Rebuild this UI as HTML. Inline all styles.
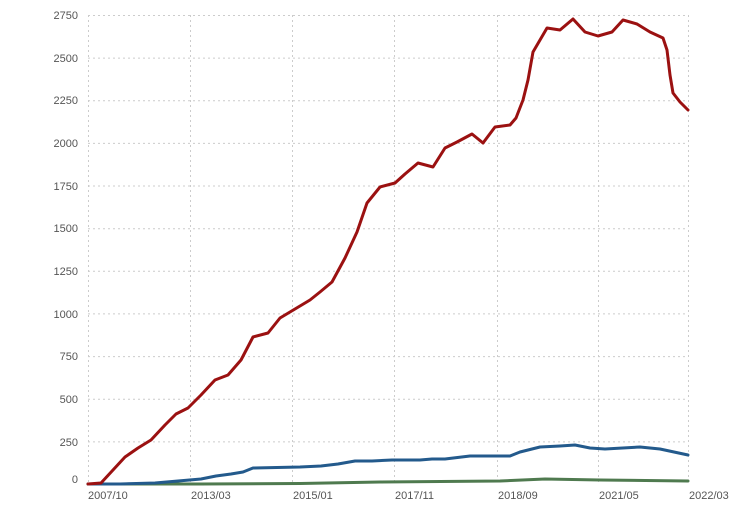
<!DOCTYPE html>
<html><head><meta charset="utf-8"><style>
html,body{margin:0;padding:0;background:#fff;}
svg text{font-family:"Liberation Sans",sans-serif;font-size:11px;fill:#555;}
</style></head><body>
<svg width="730" height="520" viewBox="0 0 730 520" xmlns="http://www.w3.org/2000/svg">
<g stroke="#ccc" stroke-width="1" stroke-dasharray="2,3" fill="none">
<line x1="88" y1="15.5" x2="688" y2="15.5"/>
<line x1="88" y1="58.1" x2="688" y2="58.1"/>
<line x1="88" y1="100.7" x2="688" y2="100.7"/>
<line x1="88" y1="143.4" x2="688" y2="143.4"/>
<line x1="88" y1="186" x2="688" y2="186"/>
<line x1="88" y1="228.7" x2="688" y2="228.7"/>
<line x1="88" y1="271.3" x2="688" y2="271.3"/>
<line x1="88" y1="313.9" x2="688" y2="313.9"/>
<line x1="88" y1="356.6" x2="688" y2="356.6"/>
<line x1="88" y1="399.2" x2="688" y2="399.2"/>
<line x1="88" y1="441.9" x2="688" y2="441.9"/>
<line x1="88.5" y1="15" x2="88.5" y2="484"/>
<line x1="190.5" y1="15" x2="190.5" y2="484"/>
<line x1="292.5" y1="15" x2="292.5" y2="484"/>
<line x1="394.5" y1="15" x2="394.5" y2="484"/>
<line x1="497.5" y1="15" x2="497.5" y2="484"/>
<line x1="598.5" y1="15" x2="598.5" y2="484"/>
<line x1="688.5" y1="15" x2="688.5" y2="484"/>
</g>
<g text-anchor="end">
<text x="78" y="19">2750</text><text x="78" y="62">2500</text><text x="78" y="104">2250</text>
<text x="78" y="147">2000</text><text x="78" y="190">1750</text><text x="78" y="232">1500</text>
<text x="78" y="275">1250</text><text x="78" y="318">1000</text><text x="78" y="360">750</text>
<text x="78" y="403">500</text><text x="78" y="446">250</text><text x="78" y="483">0</text>
</g>
<g>
<text x="88" y="499">2007/10</text><text x="191" y="499">2013/03</text><text x="293" y="499">2015/01</text>
<text x="395" y="499">2017/11</text><text x="498" y="499">2018/09</text><text x="599" y="499">2021/05</text>
<text x="689" y="499">2022/03</text>
</g>
<g fill="none" stroke-width="3" stroke-linejoin="round" stroke-linecap="round">
<polyline stroke="#4f7a4f" points="88,484 200,484 300,483.5 380,482 500,481 545,479 600,480 688,481"/>
<polyline stroke="#235a8c" points="88,484 120,484 155,483 201,479 216,476 231,474 243,472 253,468 300,467 321,466 338,464 355,461 372,461 392,460 420,460 432,459 445,459 470,456 490,456 510,456 520,452 540,447 560,446 575,445 590,448 605,449 640,447 660,449 688,455"/>
<polyline stroke="#9b1111" points="88,484 101,483 113,470 125,457 138,448 151,440 165,425 176,414 188,408 201,395 215,380 228,375 241,360 253,337 268,333 280,318 295,309 310,300 320,292 332,282 345,258 357,232 367,203 380,187 395,183 405,174 418,163 433,167 445,148 457,142 472,134 483,143 495,127 510,125 516,118 523,100 528,80 533,52 547,28 560,30 573,19 585,32 598,36 612,32 623,20 637,24 650,32 663,38 667,50 670,75 673,93 680,102 688,110"/>
</g>
</svg>
</body></html>
